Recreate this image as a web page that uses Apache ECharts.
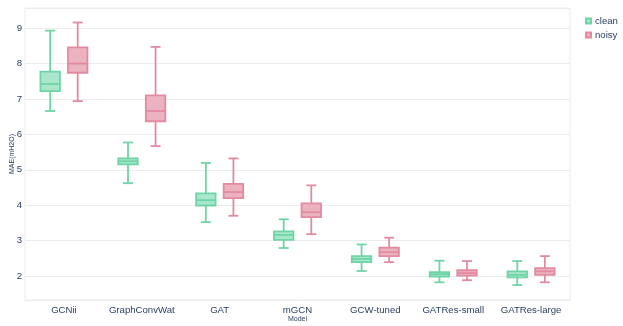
<!DOCTYPE html>
<html>
<head>
<meta charset="utf-8">
<script src="https://cdn.jsdelivr.net/npm/echarts@6/dist/echarts.min.js"></script>
<style>
  html, body { margin: 0; padding: 0; background: #fff; }
  #main { width: 623px; height: 326px; }
</style>
</head>
<body>
<div id="main"></div>
<script>
// model names on the x axis
var models = ['GCNii', 'GraphConvWat', 'GAT', 'mGCN', 'GCW-tuned', 'GATRes-small', 'GATRes-large'];
// box stats per model: [lower whisker, q1, median, q3, upper whisker]
var cleanStats = [
    [6.66, 7.22, 7.42, 7.77, 8.93],
    [4.62, 5.15, 5.24, 5.32, 5.77],
    [3.52, 3.99, 4.14, 4.33, 5.19],
    [2.79, 3.02, 3.16, 3.26, 3.60],
    [2.14, 2.39, 2.48, 2.56, 2.89],
    [1.82, 1.98, 2.05, 2.11, 2.43],
    [1.74, 1.96, 2.03, 2.13, 2.42]
];
var noisyStats = [
    [6.94, 7.74, 8.00, 8.46, 9.16],
    [5.67, 6.37, 6.66, 7.10, 8.47],
    [3.70, 4.20, 4.37, 4.60, 5.32],
    [3.18, 3.66, 3.80, 4.05, 4.56],
    [2.39, 2.56, 2.67, 2.80, 3.08],
    [1.88, 2.01, 2.08, 2.16, 2.42],
    [1.82, 2.03, 2.13, 2.22, 2.56]
];

var textColor = '#2a3f5f';
var fontFam = '"Liberation Sans", Arial, sans-serif';

function withIndex(stats) {
    return stats.map(function (s, i) {
        return [i].concat(s);
    });
}

// draws one box + whiskers, shifted inside the category band
function boxRenderer(offsetFrac, stroke, fill) {
    return function (params, api) {
        var ci = api.value(0);
        var band = api.size([1, 0])[0];
        var cx = api.coord([ci, 0])[0] + offsetFrac * band;
        var half = band * 0.125;
        var capHalf = band * 0.064;
        var yLow = api.coord([ci, api.value(1)])[1];
        var yQ1 = api.coord([ci, api.value(2)])[1];
        var yMed = api.coord([ci, api.value(3)])[1];
        var yQ3 = api.coord([ci, api.value(4)])[1];
        var yHigh = api.coord([ci, api.value(5)])[1];
        var ls = {stroke: stroke, lineWidth: 1.8};
        return {
            type: 'group',
            children: [
                {type: 'line', shape: {x1: cx, y1: yHigh, x2: cx, y2: yQ3}, style: ls},
                {type: 'line', shape: {x1: cx, y1: yQ1, x2: cx, y2: yLow}, style: ls},
                {type: 'line', shape: {x1: cx - capHalf, y1: yHigh, x2: cx + capHalf, y2: yHigh}, style: ls},
                {type: 'line', shape: {x1: cx - capHalf, y1: yLow, x2: cx + capHalf, y2: yLow}, style: ls},
                {type: 'rect', shape: {x: cx - half, y: yQ3, width: half * 2, height: yQ1 - yQ3},
                    style: {fill: fill, stroke: stroke, lineWidth: 1.8}},
                {type: 'line', shape: {x1: cx - half, y1: yMed, x2: cx + half, y2: yMed}, style: ls}
            ]
        };
    };
}

var myChart = echarts.init(document.getElementById('main'));

var option = {
    animation: false,
    backgroundColor: '#fff',
    textStyle: {fontFamily: fontFam},
    legend: {
        orient: 'vertical',
        left: 580,
        top: 11,
        icon: 'rect',
        itemWidth: 5,
        itemHeight: 5,
        itemGap: 4,
        textStyle: {color: textColor, fontSize: 9.6, lineHeight: 10, fontFamily: fontFam, padding: [0, 0, 0, -1]},
        data: ['clean', 'noisy']
    },
    grid: {
        left: 25,
        right: 53,
        top: 8,
        bottom: 26,
        containLabel: false,
        outerBoundsMode: 'none',
        show: true,
        borderColor: '#ececec',
        borderWidth: 1
    },
    xAxis: {
        type: 'category',
        data: models,
        name: 'Model',
        nameLocation: 'middle',
        nameGap: 16,
        nameMoveOverlap: false,
        nameTextStyle: {color: textColor, fontSize: 7, fontFamily: fontFam},
        axisLine: {show: false},
        axisTick: {show: false},
        axisLabel: {color: textColor, fontSize: 9.6, margin: 5, interval: 0, fontFamily: fontFam},
        splitLine: {show: false}
    },
    yAxis: {
        type: 'value',
        min: 1.32,
        max: 9.57,
        minInterval: 1,
        maxInterval: 1,
        name: 'MAE(mH2O)',
        nameLocation: 'middle',
        nameGap: 9,
        nameMoveOverlap: false,
        nameTextStyle: {color: textColor, fontSize: 7, fontFamily: fontFam},
        axisLine: {show: false},
        axisTick: {show: false},
        axisLabel: {color: textColor, fontSize: 9.6, margin: 3, showMinLabel: false, showMaxLabel: false, fontFamily: fontFam},
        splitLine: {lineStyle: {color: '#ececec', width: 1}}
    },
    series: [
        {
            name: 'clean',
            type: 'custom',
            renderItem: boxRenderer(-0.177, '#6fd4a6', '#a9e6cb'),
            itemStyle: {color: '#a9e6cb', borderColor: '#6fd4a6', borderWidth: 1},
            encode: {x: 0, y: [1, 2, 3, 4, 5]},
            data: withIndex(cleanStats)
        },
        {
            name: 'noisy',
            type: 'custom',
            renderItem: boxRenderer(0.177, '#e28aa0', '#ebb3c0'),
            itemStyle: {color: '#ebb3c0', borderColor: '#e28aa0', borderWidth: 1},
            encode: {x: 0, y: [1, 2, 3, 4, 5]},
            data: withIndex(noisyStats)
        }
    ]
};
myChart.setOption(option);
</script>
</body>
</html>
